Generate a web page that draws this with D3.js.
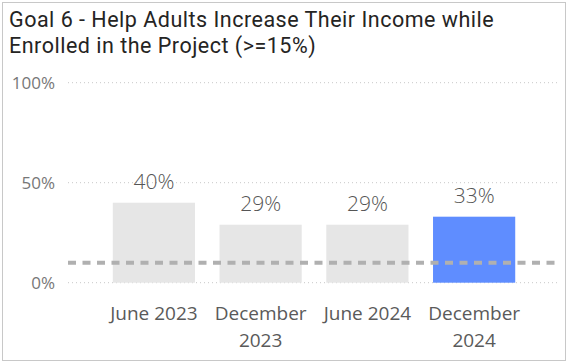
<!DOCTYPE html>
<html>
<head>
<meta charset="utf-8">
<script src="https://cdn.jsdelivr.net/npm/d3@7"></script>
<style>
  html, body { margin: 0; padding: 0; background: #fff; }
  svg { display: block; }
</style>
</head>
<body>
<svg id="chart" width="574" height="364"></svg>
<script>
// Reporting periods and the share of adults who increased income
const periods = [["June 2023"], ["December", "2023"], ["June 2024"], ["December", "2024"]];
const periodKeys = ["June 2023", "December 2023", "June 2024", "December 2024"];
const rates = [40, 29, 29, 33];
const target = 10;
const yTicks = [0, 50, 100];
const titleLines = ["Goal 6 - Help Adults Increase Their Income while", "Enrolled in the Project (>=15%)"];

const svg = d3.select("#chart");

// card border
svg.append("rect")
  .attr("x", 2.5).attr("y", 2.5)
  .attr("width", 563).attr("height", 358)
  .attr("fill", "#fff")
  .attr("stroke", "#c8c8c8")
  .attr("stroke-width", 1);

// title
const title = svg.append("text")
  .attr("font-family", "Roboto, 'DejaVu Sans Condensed', sans-serif")
  .attr("font-size", 21.5)
  .attr("letter-spacing", 0.5)
  .attr("fill", "#252423");
titleLines.forEach((t, i) => {
  title.append("tspan").attr("x", 9).attr("y", 27 + i * 26).text(t);
});

const y = d3.scaleLinear().domain([0, 100]).range([282.7, 82.7]);
const x = d3.scaleBand()
  .domain(periodKeys)
  .range([100.5, 527.5])
  .paddingInner(0.23)
  .paddingOuter(0.115);

// dotted gridlines
svg.append("g").selectAll("line")
  .data(yTicks)
  .join("line")
  .attr("x1", 68).attr("x2", 560)
  .attr("y1", d => y(d)).attr("y2", d => y(d))
  .attr("stroke", "#c8c8c8")
  .attr("stroke-width", 1)
  .attr("stroke-dasharray", "1,3");

// y axis labels
const yAxis = d3.axisLeft(y).tickValues(yTicks).tickFormat(d => d + "%").tickSize(0).tickPadding(0);
const yg = svg.append("g").attr("transform", "translate(55,0)").call(yAxis);
yg.select(".domain").remove();
yg.selectAll("text")
  .attr("font-family", "'Open Sans', sans-serif")
  .attr("font-size", 17)
  .attr("fill", "#777")
  .attr("dy", "0.35em");

// bars
svg.append("g").selectAll("rect")
  .data(rates)
  .join("rect")
  .attr("x", (d, i) => x(periodKeys[i]))
  .attr("width", x.bandwidth())
  .attr("y", d => y(d))
  .attr("height", d => y(0) - y(d))
  .attr("fill", (d, i) => i === rates.length - 1 ? "#5f8dff" : "#e6e6e6");

// target line
svg.append("line")
  .attr("x1", 68).attr("x2", 560)
  .attr("y1", y(target)).attr("y2", y(target))
  .attr("stroke", "#b0b0b0")
  .attr("stroke-width", 4)
  .attr("stroke-dasharray", "8,6.5");

// value labels
svg.append("g").selectAll("text")
  .data(rates)
  .join("text")
  .attr("x", (d, i) => x(periodKeys[i]) + x.bandwidth() / 2)
  .attr("y", d => y(d) - 14)
  .attr("text-anchor", "middle")
  .attr("font-family", "'Open Sans', sans-serif")
  .attr("font-weight", 300)
  .attr("font-size", 21)
  .attr("fill", "#555")
  .text(d => d + "%");

// category labels
const xl = svg.append("g").selectAll("text")
  .data(periods)
  .join("text")
  .attr("text-anchor", "middle")
  .attr("font-family", "'Open Sans', sans-serif")
  .attr("font-size", 19)
  .attr("fill", "#5a5a5a");
xl.each(function(lines, i) {
  const cx = x(periodKeys[i]) + x.bandwidth() / 2;
  lines.forEach((l, j) => {
    d3.select(this).append("tspan").attr("x", cx).attr("y", 320 + j * 27).text(l);
  });
});
</script>
</body>
</html>
